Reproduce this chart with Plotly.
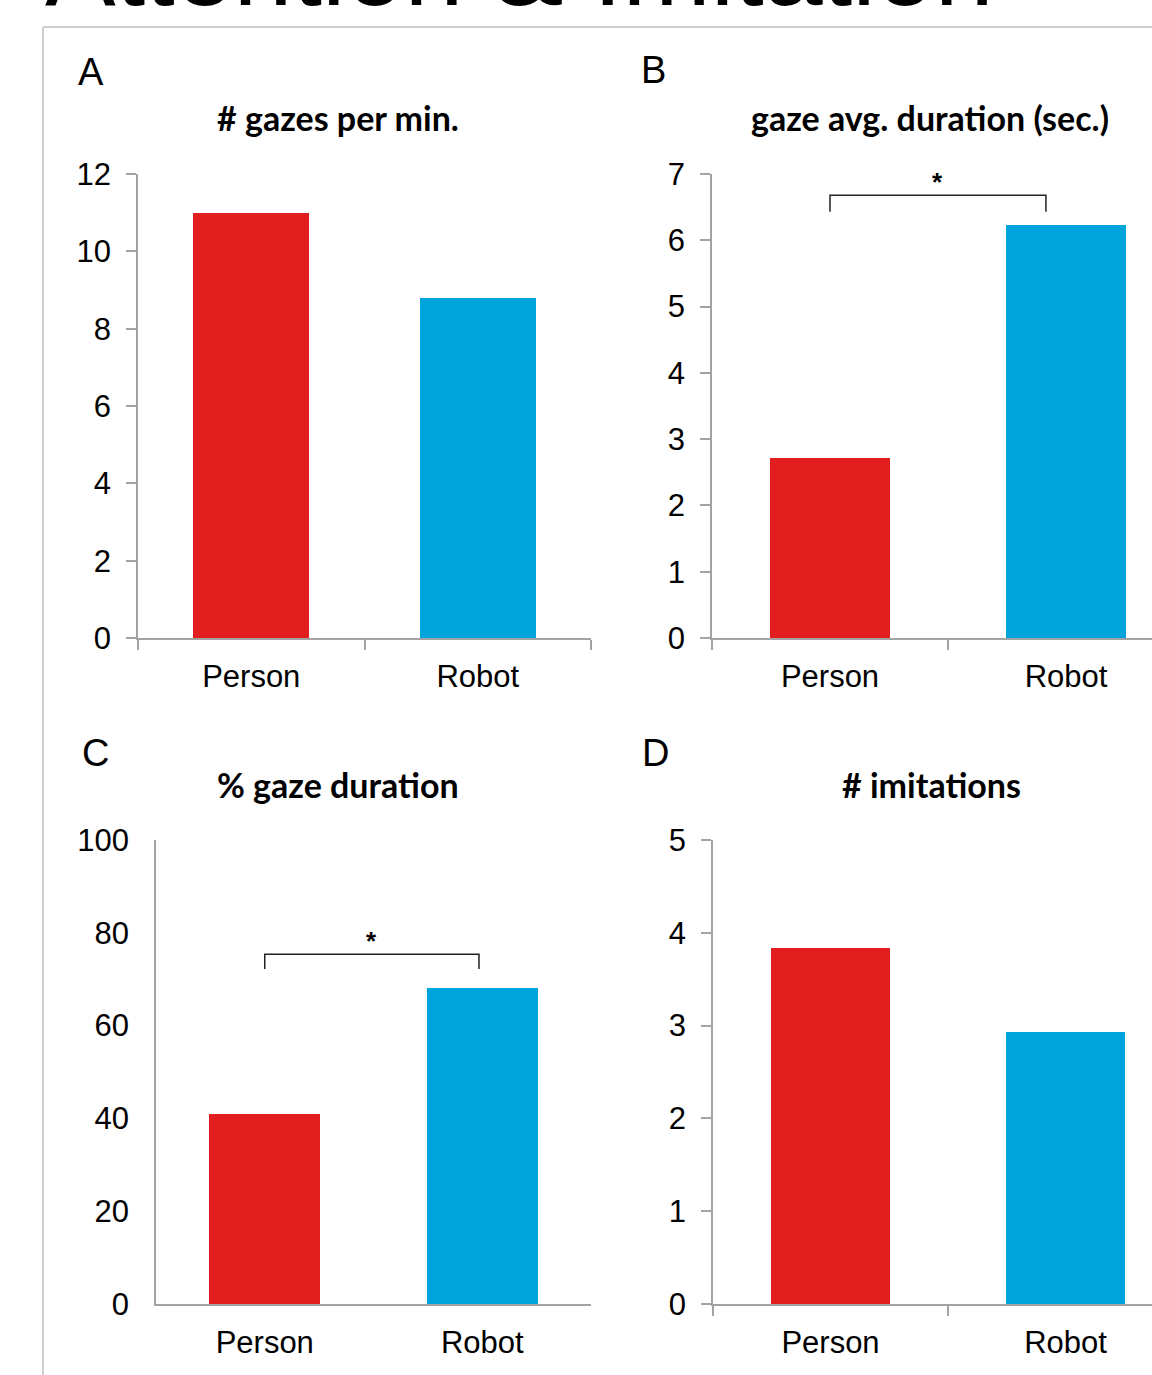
import plotly.graph_objects as go

W, H = 1152, 1375

categories = ["Person", "Robot"]
gazes_per_min = [11.0, 8.8]
gaze_avg_duration = [2.72, 6.23]
pct_gaze_duration = [40.9, 68.1]
imitations = [3.84, 2.93]

panel_letters = ["A", "B", "C", "D"]
panel_titles = ["# gazes per min.", "gaze avg. duration (sec.)", "% gaze duration", "# imitations"]
main_title = "Attention & Imitation"

# significance brackets: [x_start, x_end, y_top, y_bottom]
sig_B = [0.0, 0.915, 6.68, 6.43]
sig_C = [0.0, 0.985, 75.4, 72.2]

RED = "#E31E1F"
BLUE = "#00A4DC"
AXC = "#A3A3A3"
TICKFONT = dict(family="Liberation Sans, Arial", size=31, color="black")


def px_x(p):
    return p / W


def px_y(p):
    return 1 - p / H


fig = go.Figure()
series = [gazes_per_min, gaze_avg_duration, pct_gaze_duration, imitations]
for i, vals in enumerate(series):
    sfx = "" if i == 0 else str(i + 1)
    fig.add_trace(go.Bar(x=categories, y=vals, marker=dict(color=[RED, BLUE], line=dict(width=0)),
                         width=0.51, xaxis="x" + sfx, yaxis="y" + sfx, showlegend=False,
                         hoverinfo="skip"))

xdom = [[px_x(138), px_x(591)], [px_x(712), 1.0], [px_x(156), px_x(591)], [px_x(713), 1.0]]
ydom = [[px_y(638), px_y(174)], [px_y(638), px_y(174)], [px_y(1304), px_y(840)], [px_y(1304), px_y(840)]]
xrng = [[-0.5, 1.5], [-0.5, -0.5 + (1152 - 712) / 236], [-0.5, 1.5], [-0.5, -0.5 + (1152 - 713) / 235]]
yrng = [[0, 12], [0, 7], [0, 100], [0, 5]]
dticks = [2, 1, 20, 1]
has_ticks = [True, True, False, True]

layout = dict(width=W, height=H, margin=dict(l=0, r=0, t=0, b=0, autoexpand=False), plot_bgcolor="white",
              paper_bgcolor="white", bargap=0)
for i in range(4):
    sfx = "" if i == 0 else str(i + 1)
    tl = 10 if has_ticks[i] else 0
    layout["xaxis" + sfx] = dict(domain=xdom[i], range=xrng[i], anchor="y" + sfx, showline=True,
                                 linecolor=AXC, linewidth=1.5, showgrid=False, zeroline=False,
                                 ticks="outside" if has_ticks[i] else "", ticklen=tl, tickcolor=AXC,
                                 tickwidth=1.5, tickson="boundaries", tickfont=TICKFONT, automargin=False,
                                 ticklabelstandoff=10, fixedrange=True)
    layout["yaxis" + sfx] = dict(domain=ydom[i], range=yrng[i], anchor="x" + sfx, showline=True,
                                 linecolor=AXC, linewidth=1.5, showgrid=False, zeroline=False,
                                 ticks="outside" if has_ticks[i] else "", ticklen=tl, tickcolor=AXC,
                                 tickwidth=1.5, dtick=dticks[i], tickfont=TICKFONT, automargin=False,
                                 ticklabelstandoff=9 if has_ticks[i] else 19, fixedrange=True)
fig.update_layout(**layout)

annotations = []
letter_pos = [(91, 72), (653, 70), (95, 753), (655, 753)]
for (lx, ly), t in zip(letter_pos, panel_letters):
    annotations.append(dict(x=px_x(lx), y=px_y(ly), xref="paper", yref="paper", text=t, showarrow=False,
                            xanchor="center", yanchor="middle",
                            font=dict(family="Liberation Sans, Arial", size=38, color="black")))
title_pos = [(338, 118), (930, 118), (338, 784), (931, 784)]
for (tx, ty), t in zip(title_pos, panel_titles):
    annotations.append(dict(x=px_x(tx), y=px_y(ty), xref="paper", yref="paper", text="<b>" + t + "</b>",
                            showarrow=False, xanchor="center", yanchor="middle",
                            font=dict(family="Lato", size=34, color="black")))
annotations.append(dict(x=px_x(43), y=px_y(5), xref="paper", yref="paper", text=main_title, showarrow=False,
                        xanchor="left", yanchor="bottom", yshift=-24,
                        font=dict(family="Liberation Sans, Arial", size=106, color="black")))

shapes = []
for sig, sfx in [(sig_B, "2"), (sig_C, "3")]:
    x0, x1, yt, yb = sig
    path = f"M {x0},{yb} L {x0},{yt} L {x1},{yt} L {x1},{yb}"
    shapes.append(dict(type="path", path=path, xref="x" + sfx, yref="y" + sfx,
                       line=dict(color="#222222", width=1.5)))
    annotations.append(dict(x=(x0 + x1) / 2, y=yt, xref="x" + sfx, yref="y" + sfx, text="<b>*</b>",
                            showarrow=False, yanchor="bottom", yshift=-4,
                            font=dict(family="Liberation Sans, Arial", size=26, color="black")))

# outer frame
shapes.append(dict(type="line", xref="paper", yref="paper", x0=px_x(43), x1=px_x(43), y0=0, y1=px_y(27),
                   line=dict(color="#D0D0D0", width=2)))
shapes.append(dict(type="line", xref="paper", yref="paper", x0=px_x(43), x1=1, y0=px_y(27), y1=px_y(27),
                   line=dict(color="#D0D0D0", width=2)))

fig.update_layout(annotations=annotations, shapes=shapes)
fig.write_html("out.html", config={"displayModeBar": False},
               post_script="document.body.style.margin='0';document.body.style.overflow='hidden';")
